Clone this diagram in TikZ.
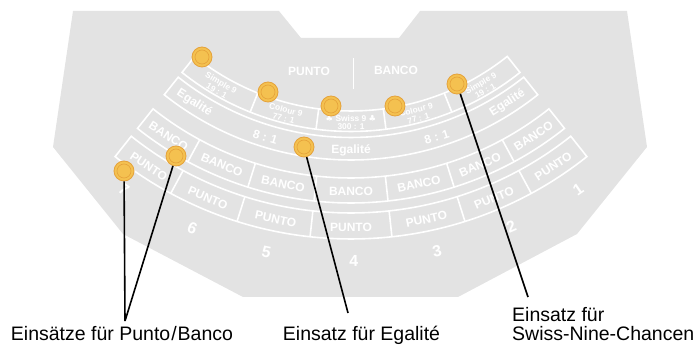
\documentclass[tikz,border=0pt]{standalone}
\usepackage{fontspec}
\setmainfont{Liberation Sans}
\newfontfamily\symfont{DejaVu Sans}
\usetikzlibrary{calc}
\definecolor{tablegray}{HTML}{E3E3E3}
\definecolor{coinfill}{HTML}{F4C150}
\definecolor{coinedge}{HTML}{E5A23A}
\newcommand\bandshape[4]{%
  \draw[cellline] ($(C)+({-90+(#3)}:#1pt)$) arc[start angle={-90+(#3)}, end angle={-90+(#4)}, radius=#1pt]
     -- ($(C)+({-90+(#4)}:#2pt)$) arc[start angle={-90+(#4)}, end angle={-90+(#3)}, radius=#2pt] -- cycle;}
\newcommand\radialline[3]{%
  \draw[cellline] ($(C)+({-90+(#1)}:#2pt)$) -- ($(C)+({-90+(#1)}:#3pt)$);}
\newcommand\celllabel[5]{%
  \node[#1, rotate={#3}] (#2) at ($(C)+({-90+(#3)}:#4pt)$) {#5};}
\begin{document}
\begin{tikzpicture}[x=1pt,y=1pt,
  cellline/.style={draw=white, line width=1.6pt, line join=miter},
  celltext/.style={text=white, font=\bfseries\fontsize{12}{14}\selectfont, inner sep=0pt},
  smalltext/.style={text=white, font=\bfseries\fontsize{8.4}{8.8}\selectfont, align=center, inner sep=0pt},
  numtext/.style={text=white, font=\bfseries\fontsize{16}{18}\selectfont, inner sep=0pt},
  labeltext/.style={text=black, font=\fontsize{19.5}{21}\selectfont, inner sep=0pt},
  coin/.style={circle, fill=coinfill, draw=coinedge, line width=0.8pt, minimum size=20pt, inner sep=0pt,
     path picture={\draw[coinedge, line width=0.6pt] (path picture bounding box.center) circle[radius=7pt];}},
  connector/.style={draw=black, line width=1.6pt},
]
\useasboundingbox (0,0) rectangle (696,348);
\coordinate (C) at (351,488);
\fill[tablegray] (73,337) -- (279,337) -- (301,310) -- (399,310) -- (420,337) -- (627,337)
  -- (647,201) -- (577,114) -- (458,51) -- (243,51) -- (123,114) -- (53,201) -- cycle;

% heading
\node[celltext] (hP) at (309,277) {PUNTO};
\node[celltext] (hB) at (396,278) {BANCO};
\draw[cellline] (353.5,290) -- (353.5,259);

% inner band
\bandshape{251}{271.5}{-38.5}{38.5}
\radialline{-21.8}{251}{271.5}
\radialline{-7.4}{251}{271.5}
\radialline{7.4}{251}{271.5}
\radialline{21.8}{251}{271.5}
\celllabel{smalltext}{s1}{-30.2}{262.5}{Simple 9\\19 : 1}
\celllabel{smalltext}{s2}{-14.6}{262.5}{Colour 9\\77 : 1}
\celllabel{smalltext}{s3}{0}{262.5}{{\symfont ♣} Swiss 9 {\symfont ♣}\\300 : 1}
\celllabel{smalltext}{s4}{14.6}{262.5}{Colour 9\\77 : 1}
\celllabel{smalltext}{s5}{30.2}{262.5}{Simple 9\\19 : 1}

% egalite band
\bandshape{277.5}{300}{-38.5}{38.5}
\celllabel{celltext}{e1}{-32.8}{289}{Egalité}
\celllabel{celltext}{e2}{-17.2}{290}{8 : 1}
\celllabel{celltext}{e3}{0}{290}{Egalité}
\celllabel{celltext}{e4}{17.2}{290}{8 : 1}
\celllabel{celltext}{e5}{32.8}{289}{Egalité}

% banco row
\bandshape{318}{343}{-38.5}{38.5}
\foreach \a in {-28.4,-17.5,-6.2,6.2,17.5,28.4}{\radialline{\a}{318}{343}}
\celllabel{celltext}{b7}{-33.45}{331}{BANCO}
\celllabel{celltext}{b6}{-22.95}{331}{BANCO}
\celllabel{celltext}{b5}{-11.85}{331}{BANCO}
\celllabel{celltext}{b4}{0}{331}{BANCO}
\celllabel{celltext}{b3}{11.85}{331}{BANCO}
\celllabel{celltext}{b2}{22.95}{331}{BANCO}
\celllabel{celltext}{b1}{33.45}{331}{BANCO}

% punto row
\bandshape{353}{379}{-38.5}{38.5}
\foreach \a in {-28.4,-17.5,-6.2,6.2,17.5,28.4}{\radialline{\a}{353}{379}}
\celllabel{celltext}{p7}{-33.45}{367}{PUNTO}
\celllabel{celltext}{p6}{-22.95}{367}{PUNTO}
\celllabel{celltext}{p5}{-11.85}{367}{PUNTO}
\celllabel{celltext}{p4}{0}{367}{PUNTO}
\celllabel{celltext}{p3}{11.85}{367}{PUNTO}
\celllabel{celltext}{p2}{22.95}{367}{PUNTO}
\celllabel{celltext}{p1}{33.45}{367}{PUNTO}

% numbers
\celllabel{numtext}{n7}{-34.6}{400}{7}
\celllabel{numtext}{n6}{-23.3}{401}{6}
\celllabel{numtext}{n5}{-12.2}{401}{5}
\celllabel{numtext}{n4}{0.4}{401}{4}
\celllabel{numtext}{n3}{12.4}{401}{3}
\celllabel{numtext}{n2}{23.6}{400}{2}
\celllabel{numtext}{n1}{34.6}{400}{1}

% labels
\node[labeltext, anchor=base] (lblPB) at (122,7) {Einsätze für Punto\kern1pt/\kern1pt Banco};
\node[labeltext, anchor=base] (lblEg) at (361.5,7) {Einsatz für Egalité};
\node[labeltext, anchor=base west] (lblSw1) at (512,27) {Einsatz für};
\node[labeltext, anchor=base west] (lblSw2) at (512,7) {Swiss-Nine-Chancen};
\coordinate (jPB) at (125,27);
\coordinate (jEg) at (348,35);
\coordinate (jSw) at (528,51);

% coins
\node[coin] (c1) at (202,291) {};
\node[coin] (c2) at (268,256) {};
\node[coin] (c3) at (331,242) {};
\node[coin] (c4) at (395,242) {};
\node[coin] (c5) at (457,264) {};
\node[coin] (c6) at (304,201) {};
\node[coin] (c7) at (176,192) {};
\node[coin] (c8) at (124,177) {};

% connectors
\draw[connector] (c8) -- (jPB);
\draw[connector] (c7) -- (jPB);
\draw[connector] (c6) -- (jEg);
\draw[connector] (c5) -- (jSw);
\end{tikzpicture}
\end{document}
